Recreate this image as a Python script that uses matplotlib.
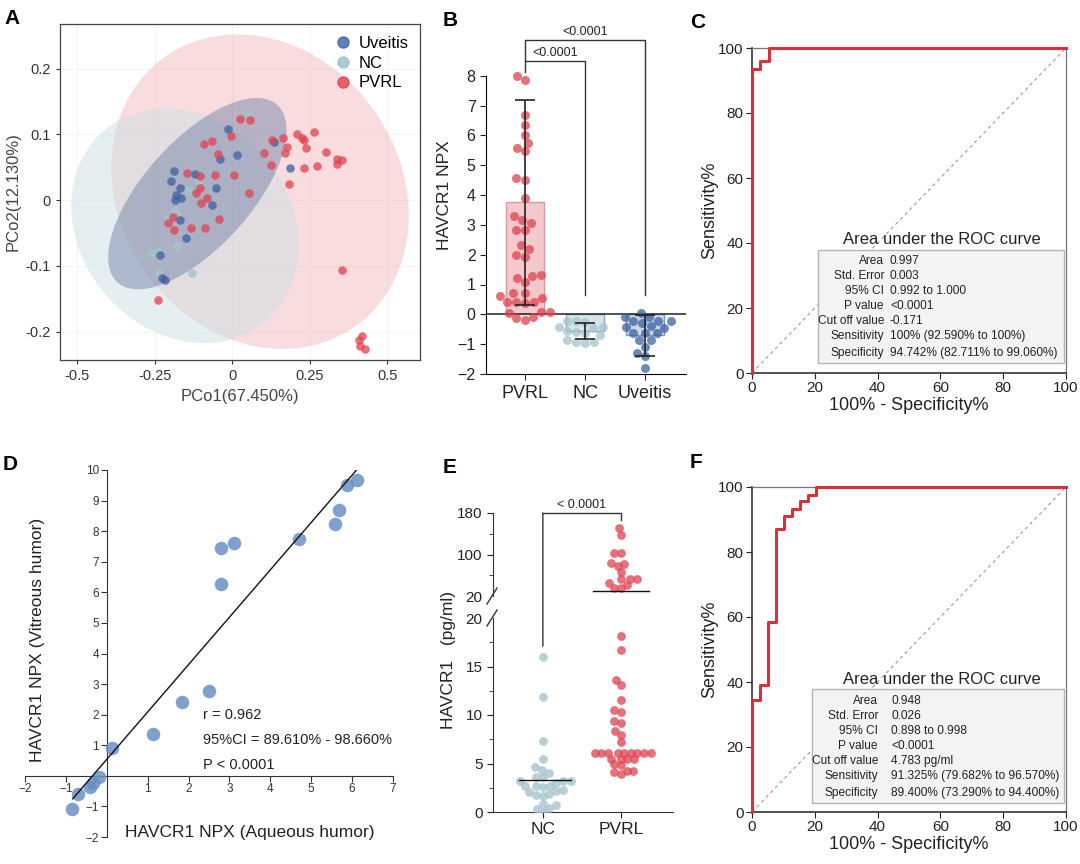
import numpy as np
import matplotlib
matplotlib.use("Agg")
import matplotlib.pyplot as plt
from matplotlib.patches import Polygon, Rectangle, ConnectionPatch
from matplotlib.lines import Line2D

plt.rcParams['font.family'] = ['Liberation Sans', 'DejaVu Sans']

######################
### Data
######################
# A: PCoA scores
a_uv_x = [-0.014, 0.015, -0.039, 0.134, 0.186, -0.186, -0.197, -0.168, -0.121, -0.180,
          -0.166, -0.184, -0.053, -0.066, -0.168, -0.149, -0.234, -0.225, -0.217]
a_uv_y = [0.109, 0.069, 0.063, 0.089, 0.049, 0.044, 0.029, 0.019, 0.040, 0.008,
          0.004, 0.000, 0.018, -0.008, -0.030, -0.057, -0.084, -0.119, -0.122]
a_nc_x = [0.055, -0.110, -0.140, -0.184, -0.180, -0.177, -0.263, -0.237, -0.239, -0.129, -0.208]
a_nc_y = [0.132, 0.031, 0.014, -0.015, -0.020, -0.070, -0.080, -0.078, -0.109, -0.111, -0.029]
a_pv_x = [0.026, 0.059, -0.003, -0.091, -0.064, -0.047, -0.144, -0.104, -0.056, 0.007,
          0.055, -0.102, -0.118, -0.100, -0.080, -0.042, -0.088, -0.133, -0.190, -0.206,
          -0.186, -0.239, 0.104, 0.126, 0.128, 0.164, 0.178, 0.170, 0.208, 0.227,
          0.232, 0.263, 0.238, 0.232, 0.273, 0.302, 0.337, 0.353, 0.339, 0.183,
          0.356, 0.419, 0.408, 0.413, 0.430]
a_pv_y = [0.123, 0.122, 0.097, 0.085, 0.090, 0.071, 0.042, 0.037, 0.038, 0.038,
          0.011, 0.019, 0.011, -0.004, 0.004, -0.029, -0.042, -0.043, -0.026, -0.035,
          -0.045, -0.151, 0.072, 0.054, 0.092, 0.094, 0.081, 0.072, 0.101, 0.094,
          0.092, 0.104, 0.079, 0.049, 0.052, 0.073, 0.063, 0.061, 0.055, 0.025,
          -0.106, -0.206, -0.213, -0.221, -0.227]
# 95% ellipses: centre x, centre y, semi-axes (x units), angle
a_ell_pv = (0.090, 0.013, 0.532, 0.452, -55)
a_ell_nc = (-0.152, -0.039, 0.403, 0.339, -50)
a_ell_uv = (-0.112, 0.010, 0.385, 0.172, 48)

# B: HAVCR1 NPX
b_groups = ['PVRL', 'NC', 'Uveitis']
b_pvrl = [7.87, 8.0, 6.69, 6.36, 6.02, 5.57, 5.46, 5.74, 4.51, 4.57, 3.9, 3.28, 3.17,
          3.06, 2.83, 2.83, 2.33, 2.18, 1.91, 1.99, 1.1, 1.21, 1.29, 1.32, 0.71, 0.71,
          0.6, 0.54, 0.43, 0.43, 0.37, 0.43, 0.09, 0.09, 0.04, -0.13, -0.08, -0.19]
b_nc = [-0.24, -0.24, -0.27, -0.41, -0.41, -0.47, -0.64, -0.6, -0.92, -0.92, -0.87,
        -0.97, -0.7, -0.55]
b_uv = [0.04, -0.1, -0.1, -0.24, -0.24, -0.22, -0.4, -0.43, -0.46, -0.3, -0.64, -0.64,
        -0.62, -0.86, -0.86, -1.08, -1.28, -1.4, -1.81]
b_mean = [3.75, -0.55, -0.70]
b_sd = [3.45, 0.27, 0.68]

# C: ROC (NPX)
c_fpr = [0, 0, 2.6, 2.6, 5.3, 5.3, 100]
c_tpr = [0, 93.6, 93.6, 95.9, 95.9, 100, 100]
c_keys = ['Area', 'Std. Error', '95% CI', 'P value', 'Cut off value', 'Sensitivity', 'Specificity']
c_vals = ['0.997', '0.003', '0.992 to 1.000', '<0.0001', '-0.171',
          '100% (92.590% to 100%)', '94.742% (82.711% to 99.060%)']

# D: aqueous vs vitreous
d_x = [6.11, 5.87, 5.69, 5.57, 4.69, 3.12, 2.80, 2.80, 2.49, 1.85, 1.14, 0.12,
       -0.20, -0.34, -0.41, -0.71, -0.86]
d_y = [9.67, 9.51, 8.69, 8.22, 7.73, 7.60, 7.44, 6.27, 2.76, 2.40, 1.36, 0.90,
       -0.03, -0.22, -0.37, -0.59, -1.09]
d_fit = (1.549, 0.54)   # slope, intercept
d_fit_range = (-0.834, 6.11)

# E: HAVCR1 pg/ml
e_nc = [15.95, 11.9, 7.3, 5.45, 4.67, 4.33, 4.0, 3.6, 3.6, 3.2, 3.2, 3.2, 3.0, 2.7,
        2.7, 2.55, 2.7, 2.3, 2.1, 1.9, 2.2, 1.6, 1.75, 0.8, 0.7, 0.4, 0.0, 0.35]
e_pvrl = [151, 138, 102.5, 102, 83.5, 82, 78, 66, 53.6, 53, 52, 41, 34.6, 45, 36,
          18.1, 16.7, 13.6, 13.1, 11.5, 10.5, 10.3, 9.4, 9.2, 8.3, 7.9, 7.2,
          6.1, 6.1, 6.1, 6.1, 6.1, 6.1, 6.1, 6.1, 6.1,
          5.5, 5.5, 5.5, 5.5, 4.9, 4.8, 4.2, 4.1, 4.2, 3.9]
e_median = [3.3, 29.5]

# F: ROC (pg/ml)
f_fpr = [0, 0, 2.6, 2.6, 5.1, 5.1, 7.7, 7.7, 10.3, 10.3, 12.8, 12.8, 15.4, 15.4,
         17.9, 17.9, 20.5, 20.5, 100]
f_tpr = [0, 34.6, 34.6, 39.0, 39.0, 58.6, 58.6, 87.0, 87.0, 91.2, 91.2, 93.3, 93.3,
         95.6, 95.6, 97.6, 97.6, 100, 100]
f_vals = ['0.948', '0.026', '0.898 to 0.998', '<0.0001', '4.783 pg/ml',
          '91.325% (79.682% to 96.570%)', '89.400% (73.290% to 94.400%)']

######################
### Helpers
######################
W, H = 1080, 864
fig = plt.figure(figsize=(W / 100, H / 100), dpi=100)

def px_axes(l, t, r, b):
    return fig.add_axes([l / W, 1 - b / H, (r - l) / W, (b - t) / H])

def ftext(x, y, s, **kw):
    return fig.text(x / W, 1 - y / H, s, **kw)

def ellipse_xy(cx, cy, a, b, ang, k, n=240):
    t = np.linspace(0, 2 * np.pi, n)
    u, v = a * np.cos(t), b * np.sin(t)
    r = np.deg2rad(ang)
    X = u * np.cos(r) - v * np.sin(r)
    Y = u * np.sin(r) + v * np.cos(r)
    return np.column_stack([cx + X, cy + Y / k])

def swarm(vals, d_px, x_scale, y_scale):
    vals = np.asarray(vals, float)
    placed = []
    offs = np.zeros(len(vals))
    for i in np.argsort(vals):
        y = vals[i] * y_scale
        nb = [(px, py) for px, py in placed if abs(py - y) < d_px]
        cands = [0.0]
        for px, py in nb:
            dx = np.sqrt(d_px ** 2 - (py - y) ** 2)
            cands += [px + dx, px - dx]
        cands.sort(key=lambda c: (abs(c), c))
        for c in cands:
            if all((c - px) ** 2 + (y - py) ** 2 >= d_px ** 2 - 1e-6 for px, py in nb):
                break
        placed.append((c, y))
        offs[i] = c / x_scale
    return offs

def letter(x, y, s):
    ftext(x, y, s, fontsize=15, fontweight='bold', ha='left', va='center')

RED = '#e0424f'
NCC = '#a6c3cd'
UVC = '#3b62a0'
TXT = '#222222'

######################
### A
######################
ax = px_axes(60, 24, 420, 360)
ax.set_xlim(-0.555, 0.606)
ax.set_ylim(-0.243, 0.268)
k = (336 / 0.511) / (360 / 1.161)
ax.add_patch(Polygon(ellipse_xy(*a_ell_pv, k), closed=True, fc='#f0a4aa', alpha=0.38, lw=0))
ax.add_patch(Polygon(ellipse_xy(*a_ell_nc, k), closed=True, fc='#cddfe5', alpha=0.5, lw=0))
ax.add_patch(Polygon(ellipse_xy(*a_ell_uv, k), closed=True, fc='#60739f', alpha=0.42, lw=0))
ax.scatter(a_nc_x, a_nc_y, s=38, color=NCC, alpha=0.85, lw=0, zorder=3)
ax.scatter(a_uv_x, a_uv_y, s=38, color=UVC, alpha=0.75, lw=0, zorder=3)
ax.scatter(a_pv_x, a_pv_y, s=38, color=RED, alpha=0.75, lw=0, zorder=3)
ax.set_xticks([-0.5, -0.25, 0, 0.25, 0.5])
ax.set_xticklabels(['-0.5', '-0.25', '0', '0.25', '0.5'])
ax.set_yticks([-0.2, -0.1, 0, 0.1, 0.2])
ax.set_yticklabels(['-0.2', '-0.1', '0', '0.1', '0.2'])
ax.grid(color='#f3f3f3', lw=0.6)
ax.set_axisbelow(True)
ax.tick_params(labelsize=10.5, colors='#333333', length=3, width=0.8)
for sp in ax.spines.values():
    sp.set_color('#444444')
    sp.set_linewidth(0.9)
ax.set_xlabel('PCo1(67.450%)', fontsize=12, color='#444444', labelpad=4)
ax.set_ylabel('PCo2(12.130%)', fontsize=12, color='#444444', labelpad=4)
hnd = [Line2D([], [], ls='none', marker='o', ms=8, color=c, alpha=a)
       for c, a in [(UVC, 0.8), (NCC, 0.9), (RED, 0.8)]]
ax.legend(hnd, ['Uveitis', 'NC', 'PVRL'], loc='upper left',
          bbox_to_anchor=((335 - 60) / 360, 1 - (36 - 24) / 336), frameon=False,
          fontsize=12, handlelength=1.0, handletextpad=0.4, labelspacing=0.28,
          borderaxespad=0, borderpad=0)
letter(4, 18, 'A')

######################
### B
######################
ax = px_axes(486, 16, 686, 374)
ax.set_xlim(-0.65, 2.68)
ax.set_ylim(-2, 10)
xpos = np.arange(3)
fills = ['#f5c8cb', '#d6e5ea', '#cbd7ea']
edges = ['#d49aa0', '#8fa8b2', '#8396b8']
ax.bar(xpos, b_mean, width=0.63, color=fills, edgecolor=edges, lw=1, zorder=1)
cols = [RED, NCC, UVC]
for i, vals in enumerate([b_pvrl, b_nc, b_uv]):
    off = swarm(vals, 9.0, 60, 29.8)
    ax.scatter(i + off, vals, s=42, color=cols[i], alpha=0.75, lw=0, zorder=3)
ax.errorbar(xpos, b_mean, yerr=b_sd, fmt='none', ecolor=TXT, elinewidth=1.2,
            capsize=7.5, capthick=1.2, zorder=4)
ax.axhline(0, color=TXT, lw=1.1, zorder=2)
for sp in ['top', 'right']:
    ax.spines[sp].set_visible(False)
ax.spines['left'].set_bounds(-2, 8)
ax.set_yticks(range(-2, 9))
ax.set_xticks(xpos)
ax.set_xticklabels(b_groups, fontsize=13)
ax.tick_params(axis='y', labelsize=11.5, length=4, colors=TXT)
ax.tick_params(axis='x', length=4, colors=TXT, pad=4)
ax.set_ylabel('HAVCR1 NPX', fontsize=12.5, color=TXT, labelpad=4)
# significance brackets
ax.plot([0, 0, 1, 1], [8.13, 8.5, 8.5, 0.64], color='#333333', lw=1, clip_on=False)
ax.plot([0, 0, 2, 2], [8.5, 9.2, 9.2, 0.64], color='#333333', lw=1, clip_on=False)
ax.text(0.5, 8.56, '<0.0001', ha='center', va='bottom', fontsize=9, color=TXT)
ax.text(1.0, 9.26, '<0.0001', ha='center', va='bottom', fontsize=9, color=TXT)
letter(443, 20, 'B')

######################
### C and F (ROC)
######################
def roc(box, fpr, tpr, vals, tbox, ttl, rows, key_x, val_x):
    ax = px_axes(*box)
    ax.set_xlim(0, 100)
    ax.set_ylim(0, 100)
    ax.plot([0, 100], [0, 100], ls=(0, (3, 3)), color='#999999', lw=0.8, zorder=1)
    ax.plot(fpr, tpr, color='#d9303c', lw=2.2, clip_on=False, zorder=5)
    for sp in ['left', 'bottom']:
        ax.spines[sp].set_color('#333333')
        ax.spines[sp].set_linewidth(1.2)
    for sp in ['top', 'right']:
        ax.spines[sp].set_color('#777777')
        ax.spines[sp].set_linewidth(0.9)
    ax.set_xticks(range(0, 101, 20))
    ax.set_yticks(range(0, 101, 20))
    ax.tick_params(labelsize=11, length=4, colors=TXT, pad=2)
    ax.set_xlabel('100% - Specificity%', fontsize=13, color=TXT, labelpad=1)
    ax.set_ylabel('Sensitivity%', fontsize=13, color=TXT, labelpad=0)
    l, t, r, b = tbox
    fig.add_artist(Rectangle((l / W, 1 - b / H), (r - l) / W, (b - t) / H,
                             transform=fig.transFigure, fc='#f3f3f3', ec='#b5b5b5',
                             lw=1, zorder=2))
    ftext(ttl[0], ttl[1], 'Area under the ROC curve', fontsize=12, ha='center',
          va='center', color=TXT, zorder=3)
    for key, val, y in zip(c_keys, vals, rows):
        ftext(key_x, y, key, fontsize=8.6, ha='right', va='center', color=TXT, zorder=3)
        ftext(val_x, y, val, fontsize=8.6, ha='left', va='center', color=TXT, zorder=3)
    return ax

roc((752, 48, 1066, 373), c_fpr, c_tpr, c_vals, (818, 250, 1064, 363), (942, 239),
    [261, 276, 291, 306, 321, 336, 353], 884, 890)
letter(690, 23, 'C')
roc((752, 487, 1066, 812), f_fpr, f_tpr, f_vals, (812, 689, 1064, 803), (942, 679),
    [701, 716, 731, 746, 761, 776, 793], 878, 891)
letter(690, 463, 'F')

######################
### D
######################
ax = px_axes(25, 470, 393, 837)
ax.set_xlim(-2, 7)
ax.set_ylim(-2, 10)
ax.scatter(d_x, d_y, s=95, color='#6a8fc6', alpha=0.85, lw=0, zorder=3)
fx = np.array(d_fit_range)
ax.plot(fx, d_fit[0] * fx + d_fit[1], color='#111111', lw=1, zorder=4)
ax.spines['left'].set_position(('data', 0))
ax.spines['bottom'].set_position(('data', 0))
for sp in ['top', 'right']:
    ax.spines[sp].set_visible(False)
for sp in ['left', 'bottom']:
    ax.spines[sp].set_color('#333333')
ax.set_xticks([t for t in range(-2, 8) if t != 0])
ax.set_yticks([t for t in range(-2, 11) if t != 0])
ax.tick_params(labelsize=8.5, colors='#333333', length=4, pad=1.5)
ax.text(0.61, 0.011, 'HAVCR1 NPX (Aqueous humor)', transform=ax.transAxes,
        fontsize=12.5, ha='center', va='center', color=TXT)
ax.text(0.035, 0.537, 'HAVCR1 NPX (Vitreous humor)', transform=ax.transAxes,
        fontsize=12.5, ha='center', va='center', rotation=90, color=TXT)
for y, s in zip([0.332, 0.264, 0.196], ['r = 0.962', '95%CI = 89.610% - 98.660%', 'P < 0.0001']):
    ax.text(0.484, y, s, transform=ax.transAxes, fontsize=10.5, ha='left', va='center', color=TXT)
letter(3, 465, 'D')

######################
### E (broken axis)
######################
ax_up = px_axes(493, 513, 673, 596)
ax_lo = px_axes(493, 618, 673, 812)
for a in (ax_up, ax_lo):
    a.set_xlim(-0.64, 1.67)
    for sp in ['top', 'right']:
        a.spines[sp].set_visible(False)
    a.spines['left'].set_color('#333333')
    a.spines['bottom'].set_color('#333333')
    a.tick_params(labelsize=11, colors=TXT, length=4)
    a.tick_params(which='minor', length=3, colors=TXT)
ax_up.set_ylim(20, 180)
ax_lo.set_ylim(0, 20)
ax_up.spines['bottom'].set_visible(False)
ax_up.set_xticks([])
ax_up.set_yticks([20, 100, 180])
ax_up.set_yticks([60, 140], minor=True)
ax_up.get_yticklines()[0].set_visible(False)
ax_lo.set_yticks([0, 5, 10, 15, 20])
ax_lo.set_yticks([2.5, 7.5, 12.5, 17.5], minor=True)
ax_lo.get_yticklines()[-2].set_visible(False)
ax_lo.set_xticks([0, 1])
ax_lo.set_xticklabels(['NC', 'PVRL'], fontsize=12.5)

e_pv = np.array(e_pvrl)
hi = e_pv[e_pv > 20]
lo = e_pv[e_pv <= 20]
ax_lo.scatter(swarm(e_nc, 7.2, 78, 9.7), e_nc, s=40, color=NCC, alpha=0.8, lw=0, zorder=3)
ax_lo.scatter(1 + swarm(lo, 6.6, 78, 9.7), lo, s=40, color=RED, alpha=0.75, lw=0, zorder=3)
ax_up.scatter(1 + swarm(hi, 7.0, 78, 0.525), hi, s=40, color=RED, alpha=0.75, lw=0,
              zorder=3, clip_on=False)
ax_lo.plot([-0.3, 0.36], [e_median[0]] * 2, color='#111111', lw=1, zorder=4)
ax_up.plot([0.64, 1.36], [e_median[1]] * 2, color='#111111', lw=1, zorder=4)

# break marks
for a, yc, hpx in [(ax_up, 0, 83), (ax_lo, 1, 194)]:
    a.plot([-6 / 180, 4 / 180], [yc - 8 / hpx, yc + 8 / hpx], transform=a.transAxes,
           color='#333333', lw=1, clip_on=False)
# bracket
ax_up.plot([0, 1, 1], [180, 180, 167], color='#333333', lw=1, clip_on=False)
fig.add_artist(ConnectionPatch((0, 180), (0, 17.1), coordsA=ax_up.transData,
                               coordsB=ax_lo.transData, color='#333333', lw=1))
ax_up.text(0.5, 184, '< 0.0001', ha='center', va='bottom', fontsize=9, color=TXT)
ftext(448, 660, 'HAVCR1   (pg/ml)', rotation=90, fontsize=12.5, ha='center',
      va='center', color=TXT)
letter(443, 467, 'E')

plt.savefig('out.png', dpi=100)
